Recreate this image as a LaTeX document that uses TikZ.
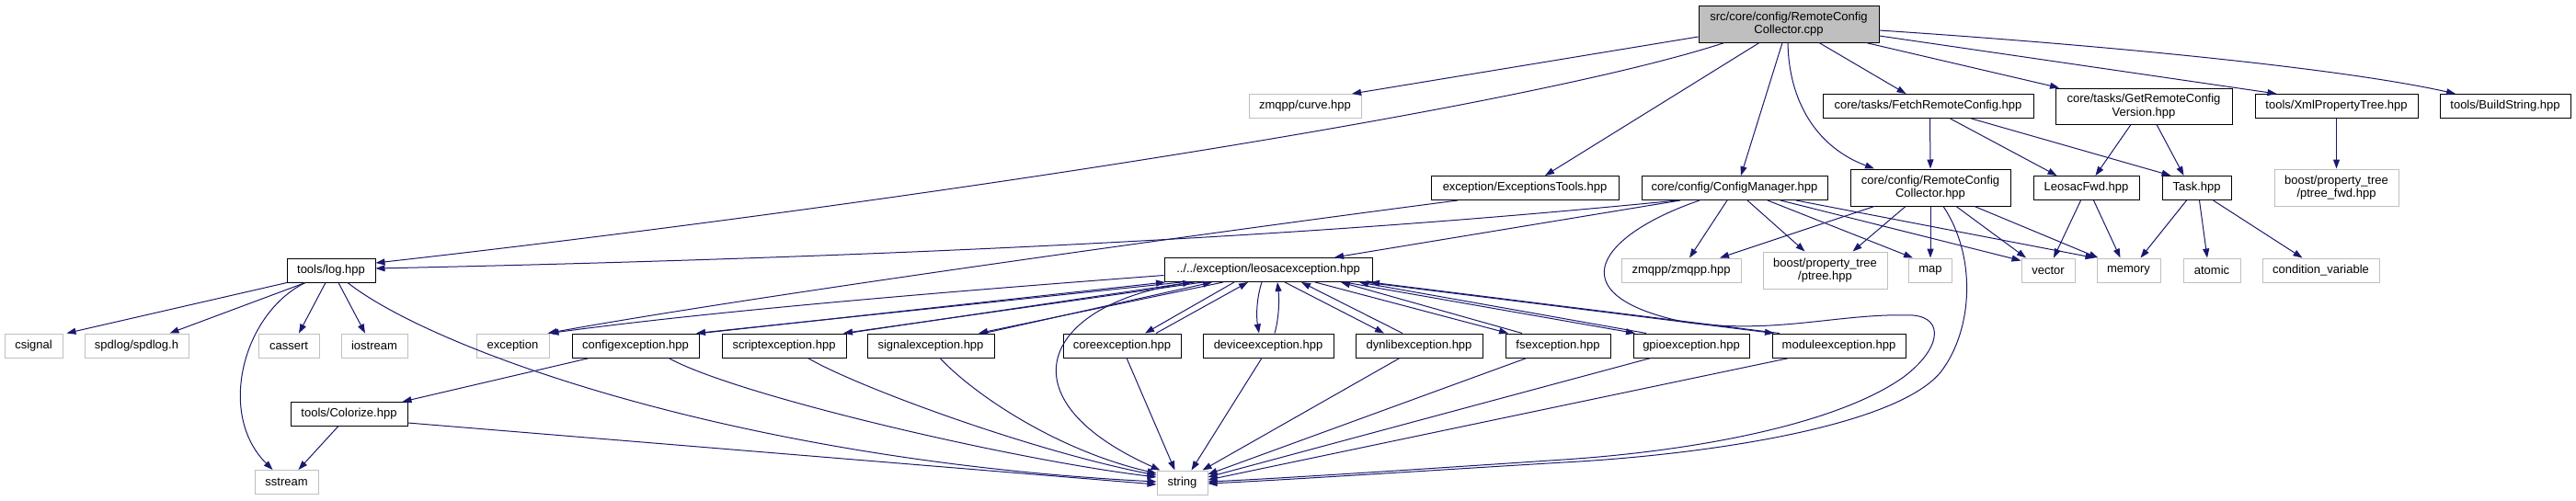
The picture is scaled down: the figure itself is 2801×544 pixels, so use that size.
\documentclass[tikz,border=0pt]{standalone}
\usepackage{fontspec}
\setmainfont{Liberation Sans}
\usepackage{tikz}
\usetikzlibrary{arrows.meta}
\definecolor{dgEdge}{HTML}{191970}
\definecolor{dgGray}{HTML}{BFBFBF}
\tikzset{
  % Project header (black border)
  hbox/.style={rectangle,draw=black,line width=1pt,fill=white,
    inner sep=0pt,minimum height=26pt,align=center,
    font=\fontsize{13}{14.5}\selectfont,text=black},
  % System / external header (gray border)
  sbox/.style={hbox,draw=dgGray},
  % The file the graph is drawn for
  rbox/.style={hbox,fill=dgGray},
  % Include arrows
  arr/.style={-{Triangle[length=10pt,width=7pt]},line width=1pt,color=dgEdge},
}

\begin{document}
\begin{tikzpicture}[x=1pt,y=-1pt]
  \useasboundingbox (0,0) rectangle (2801,544);

  % top rows
  \node[rbox,minimum width=196pt,minimum height=40pt] (root) at (1945,26)
    {src/core/config/RemoteConfig\\Collector.cpp};
  \node[sbox,minimum width=122pt] (curve) at (1419,115.5) {zmqpp/curve.hpp};
  \node[hbox,minimum width=229pt] (fetch) at (2096.5,115.5) {core/tasks/FetchRemoteConfig.hpp};
  \node[hbox,minimum width=192pt,minimum height=39pt] (getver) at (2331,115.5)
    {core/tasks/GetRemoteConfig\\Version.hpp};
  \node[hbox,minimum width=177pt] (xmlpt) at (2540.5,115.5) {tools/XmlPropertyTree.hpp};
  \node[hbox,minimum width=142pt] (buildstr) at (2724,115.5) {tools/BuildString.hpp};

  \node[hbox,minimum width=204pt] (exctools) at (1658,204.5) {exception/ExceptionsTools.hpp};
  \node[hbox,minimum width=202pt] (cfgmgr) at (1886,204.5) {core/config/ConfigManager.hpp};
  \node[hbox,minimum width=174pt,minimum height=40pt] (rcchpp) at (2099,204)
    {core/config/RemoteConfig\\Collector.hpp};
  \node[hbox,minimum width=115pt] (fwd) at (2268.5,204.5) {LeosacFwd.hpp};
  \node[hbox,minimum width=75pt] (task) at (2388.5,204.5) {Task.hpp};
  \node[sbox,minimum width=135pt,minimum height=40pt] (ptreefwd) at (2540.5,204)
    {boost/property\_tree\\/ptree\_fwd.hpp};

  % middle row
  \node[hbox,minimum width=96pt] (log) at (360,294) {tools/log.hpp};
  \node[hbox,minimum width=226pt] (leosac) at (1379,293.5) {../../exception/leosacexception.hpp};
  \node[sbox,minimum width=130pt] (zmqpp) at (1828,294) {zmqpp/zmqpp.hpp};
  \node[sbox,minimum width=135pt,minimum height=40pt] (ptree) at (1984.5,294)
    {boost/property\_tree\\/ptree.hpp};
  \node[sbox,minimum width=47pt] (map) at (2099,294) {map};
  \node[sbox,minimum width=58pt] (vector) at (2227,294) {vector};
  \node[sbox,minimum width=69pt] (memory) at (2314.5,294) {memory};
  \node[sbox,minimum width=62pt] (atomic) at (2405,294) {atomic};
  \node[sbox,minimum width=127pt] (condvar) at (2523.5,294) {condition\_variable};

  % exception row
  \node[sbox,minimum width=63pt] (csignal) at (36.5,376) {csignal};
  \node[sbox,minimum width=113pt] (spdlog) at (148.5,376) {spdlog/spdlog.h};
  \node[sbox,minimum width=66pt] (cassert) at (314,376) {cassert};
  \node[sbox,minimum width=72pt] (iostream) at (407,376) {iostream};
  \node[sbox,minimum width=79pt] (exception) at (557.5,376) {exception};
  \node[hbox,minimum width=138pt] (configexc) at (691,376) {configexception.hpp};
  \node[hbox,minimum width=135pt] (scriptexc) at (852.5,376) {scriptexception.hpp};
  \node[hbox,minimum width=138pt] (signalexc) at (1012,376) {signalexception.hpp};
  \node[hbox,minimum width=128pt] (coreexc) at (1220,376) {coreexception.hpp};
  \node[hbox,minimum width=142pt] (deviceexc) at (1379,376) {deviceexception.hpp};
  \node[hbox,minimum width=138pt] (dynlibexc) at (1543,376) {dynlibexception.hpp};
  \node[hbox,minimum width=114pt] (fsexc) at (1694,376) {fsexception.hpp};
  \node[hbox,minimum width=126pt] (gpioexc) at (1839,376) {gpioexception.hpp};
  \node[hbox,minimum width=145pt] (moduleexc) at (1999.5,376) {moduleexception.hpp};

  % bottom rows
  \node[hbox,minimum width=127pt] (colorize) at (379.5,450.5) {tools/Colorize.hpp};
  \node[sbox,minimum width=69pt] (sstream) at (311.5,524.5) {sstream};
  \node[sbox,minimum width=55pt] (string) at (1285.5,525) {string};

  % from the source file
  \draw[arr] ([yshift=-14pt]root.west) -- ([xshift=51pt]curve.north);
  \draw[arr] ([xshift=-70pt]root.south) .. controls (1650,120) and (950,225) .. ([yshift=8pt]log.east);
  \draw[arr] ([xshift=-32pt]root.south) -- ([xshift=22pt]exctools.north);
  \draw[arr] ([xshift=-7pt]root.south) -- ([xshift=7pt]cfgmgr.north);
  \draw[arr] ([xshift=-1pt]root.south) .. controls (1945,110) and (1975,160) .. ([xshift=-61pt]rcchpp.north);
  \draw[arr] ([xshift=33pt]root.south) -- ([xshift=-24pt]fetch.north);
  \draw[arr] ([xshift=84pt]root.south) -- ([xshift=-92pt]getver.north);
  \draw[arr] ([yshift=-13pt]root.east) -- ([xshift=-65pt]xmlpt.north);
  \draw[arr] ([yshift=-7pt]root.east) .. controls (2300,50) and (2550,75) .. ([xshift=-54pt]buildstr.north);

  % tasks
  \draw[arr] ([xshift=2pt]fetch.south) -- (rcchpp.north);
  \draw[arr] ([xshift=24pt]fetch.south) -- ([xshift=-32pt]fwd.north);
  \draw[arr] ([xshift=47pt]fetch.south) -- ([xshift=-28pt]task.north);
  \draw[arr] ([xshift=-14pt]getver.south) -- ([xshift=10pt]fwd.north);
  \draw[arr] ([xshift=14pt]getver.south) -- ([xshift=-14pt]task.north);
  \draw[arr] (xmlpt.south) -- (ptreefwd.north);
  \draw[arr] ([xshift=-6pt]fwd.south) -- ([xshift=6pt]vector.north);
  \draw[arr] ([xshift=8pt]fwd.south) -- ([xshift=-9pt]memory.north);
  \draw[arr] ([xshift=-11pt]task.south) -- ([xshift=13pt]memory.north);
  \draw[arr] ([xshift=3pt]task.south) -- ([xshift=-5pt]atomic.north);
  \draw[arr] ([xshift=18pt]task.south) -- ([xshift=-20pt]condvar.north);

  % config manager
  \draw[arr] ([xshift=-62pt]cfgmgr.south) .. controls (1600,240) and (1200,275) .. ([yshift=2pt]log.east);
  \draw[arr] ([xshift=-59pt]cfgmgr.south) -- ([xshift=72pt]leosac.north);
  \draw[arr] ([xshift=-8pt]cfgmgr.south) -- ([xshift=9pt]zmqpp.north);
  \draw[arr] ([xshift=14pt]cfgmgr.south) -- ([xshift=-22pt]ptree.north);
  \draw[arr] ([xshift=36pt]cfgmgr.south) -- ([xshift=-19pt]map.north);
  \draw[arr] ([xshift=50pt]cfgmgr.south) -- ([yshift=-3pt]vector.north west);
  \draw[arr] ([xshift=67pt]cfgmgr.south) -- ([xshift=-2pt]memory.north west);
  \draw[arr] ([xshift=-38pt]cfgmgr.south) .. controls (1740,255) and (1690,320) .. (1830,350)
    .. controls (1930,365) and (2000,340) .. (2080,343)
    .. controls (2115,346) and (2110,380) .. (2070,410)
    .. controls (2000,460) and (1850,490) .. (1700,500)
    .. controls (1550,510) and (1400,520) .. ([yshift=1pt]string.east);

  % remote config collector header
  \draw[arr] ([xshift=-61pt]rcchpp.south) -- ([xshift=42pt]zmqpp.north);
  \draw[arr] ([xshift=-27pt]rcchpp.south) -- ([xshift=30pt]ptree.north);
  \draw[arr] (rcchpp.south) -- (map.north);
  \draw[arr] ([xshift=28pt]rcchpp.south) -- ([xshift=-24pt]vector.north);
  \draw[arr] ([xshift=48pt]rcchpp.south) -- ([xshift=2pt]memory.north west);
  \draw[arr] ([xshift=14pt]rcchpp.south) .. controls (2150,280) and (2145,360) .. (2110,405)
    .. controls (2060,465) and (1850,495) .. (1700,503)
    .. controls (1550,512) and (1400,522) .. ([yshift=-1pt]string.east);

  % exceptions
  \draw[arr] ([xshift=-73pt]exctools.south) .. controls (1300,255) and (800,325) .. ([xshift=38pt]exception.north);
  \draw[arr] ([yshift=-6pt]leosac.west) .. controls (1100,312) and (800,335) .. ([xshift=40pt]exception.north);
  \draw[arr] ([xshift=-80pt]leosac.south) .. controls (1140,325) and (1080,430) .. ([xshift=-24pt]string.north);

  \draw[arr] ([xshift=-94pt]leosac.south) -- ([xshift=66pt]configexc.north);
  \draw[arr] ([xshift=71pt]configexc.north) -- ([xshift=-112pt]leosac.south);
  \draw[arr] ([xshift=-71pt]leosac.south) -- ([xshift=64.5pt]scriptexc.north);
  \draw[arr] ([xshift=68.5pt]scriptexc.north) -- ([xshift=-83pt]leosac.south);
  \draw[arr] ([xshift=-49pt]leosac.south) -- ([xshift=52pt]signalexc.north);
  \draw[arr] ([xshift=58pt]signalexc.north) -- ([xshift=-61pt]leosac.south);
  \draw[arr] ([xshift=-37pt]leosac.south) -- ([xshift=25pt]coreexc.north);
  \draw[arr] ([xshift=37pt]coreexc.north) -- ([xshift=-22pt]leosac.south);
  \draw[arr] ([xshift=-7pt]leosac.south) .. controls (1366,325) and (1366,345) .. ([xshift=-10pt]deviceexc.north);
  \draw[arr] ([xshift=7pt]deviceexc.north) .. controls (1391,345) and (1391,325) .. ([xshift=10pt]leosac.south);
  \draw[arr] ([xshift=18pt]leosac.south) -- ([xshift=-38pt]dynlibexc.north);
  \draw[arr] ([xshift=-18pt]dynlibexc.north) -- ([xshift=36pt]leosac.south);
  \draw[arr] ([xshift=51pt]leosac.south) -- ([xshift=-54pt]fsexc.north);
  \draw[arr] ([xshift=-39pt]fsexc.north) -- ([xshift=79pt]leosac.south);
  \draw[arr] ([xshift=83pt]leosac.south) -- ([xshift=-61pt]gpioexc.north);
  \draw[arr] ([xshift=-49pt]gpioexc.north) -- ([xshift=99pt]leosac.south);
  \draw[arr] ([xshift=105pt]leosac.south) -- ([xshift=-70.5pt]moduleexc.north);
  \draw[arr] ([xshift=-64.5pt]moduleexc.north) -- ([xshift=111pt]leosac.south);

  \draw[arr] ([xshift=36pt]configexc.south) .. controls (800,430) and (1100,500) .. ([yshift=6pt]string.west);
  \draw[arr] ([xshift=26pt]scriptexc.south) .. controls (930,420) and (1120,490) .. ([yshift=8pt]string.west);
  \draw[arr] ([xshift=10pt]signalexc.south) .. controls (1060,430) and (1150,490) .. ([yshift=10pt]string.west);
  \draw[arr] ([xshift=5pt]coreexc.south) -- ([xshift=-8pt]string.north);
  \draw[arr] ([xshift=-7pt]deviceexc.south) -- ([xshift=10pt]string.north);
  \draw[arr] ([xshift=-21pt]dynlibexc.south) -- ([xshift=22pt]string.north);
  \draw[arr] ([xshift=-34pt]fsexc.south) -- ([yshift=9pt]string.east);
  \draw[arr] ([xshift=-44pt]gpioexc.south) -- ([yshift=6pt]string.east);
  \draw[arr] ([xshift=-54pt]moduleexc.south) -- ([yshift=3pt]string.east);
  \draw[arr] ([xshift=-50pt]configexc.south) -- ([xshift=58pt]colorize.north);

  % logging
  \draw[arr] ([xshift=-48pt]log.south) -- ([xshift=36pt]csignal.north);
  \draw[arr] ([xshift=-28pt]log.south) -- ([xshift=36pt]spdlog.north);
  \draw[arr] ([xshift=-28pt]log.south) .. controls (265,340) and (235,450) .. ([xshift=-15pt]sstream.north);
  \draw[arr] ([xshift=-6pt]log.south) -- ([xshift=11pt]cassert.north);
  \draw[arr] ([xshift=8pt]log.south) -- ([xshift=-10pt]iostream.north);
  \draw[arr] ([xshift=18pt]log.south) .. controls (470,380) and (800,500) .. ([yshift=1pt]string.west);
  \draw[arr] ([yshift=-9.5pt]colorize.east) -- ([yshift=-2pt]string.west);
  \draw[arr] ([xshift=-12pt]colorize.south) -- ([xshift=13pt]sstream.north);
\end{tikzpicture}
\end{document}
